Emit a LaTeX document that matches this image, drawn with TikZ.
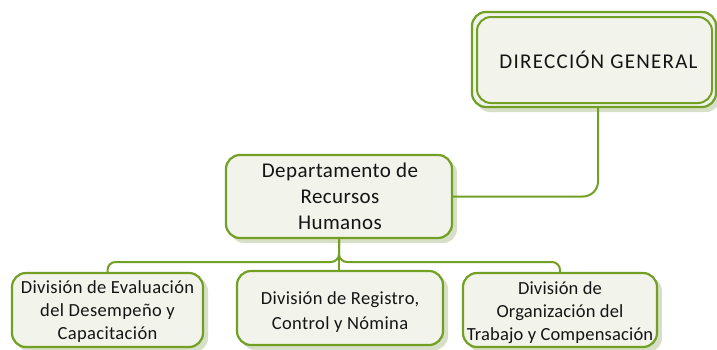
\documentclass[tikz,border=0pt]{standalone}
\usepackage{fontspec}
\setmainfont{Carlito}
\definecolor{bgreen}{HTML}{72A024}
\definecolor{bfill}{HTML}{F2F4EC}
\definecolor{bshadow}{HTML}{D8DFC8}
\begin{document}
\begin{tikzpicture}[x=1pt,y=-1pt,
  box/.style={draw=bgreen,line width=2.2pt,fill=bfill,rounded corners=14pt,
    inner sep=0pt},
  lbl/.style={align=center,inner sep=0pt,text=black!92},
  shad/.style={fill=bshadow,rounded corners=14pt,draw=none},
  conn/.style={draw=bgreen,line width=2pt,rounded corners=8pt}]
\useasboundingbox (0,0) rectangle (717,349);
% shadows
\fill[shad] (476,16) rectangle (720,112);
\fill[shad] (230,159) rectangle (457,243);
\fill[shad] (16,277) rectangle (208,352);
\fill[shad] (241,275) rectangle (448,350);
\fill[shad] (467,277) rectangle (662,352);
% Direccion general
\node[box,minimum width=244pt,minimum height=95pt] (dirout) at (594,59.5) {};
\node[box,line width=2pt,minimum width=235pt,minimum height=86pt] (dir) at (594.5,60) {};
\node[lbl,font=\fontsize{21}{24}\selectfont\addfontfeature{LetterSpace=6}] (dirt) at ([xshift=4pt]dir.center) {DIRECCIÓN GENERAL};
% Departamento
\node[box,minimum width=226pt,minimum height=83pt] (dept) at (339,196.5) {};
\node[lbl,font=\fontsize{21}{26}\selectfont\addfontfeature{LetterSpace=2}] (deptt) at ([xshift=1pt]dept.center) {Departamento de\\Recursos\\Humanos};
% divisions
\node[box,minimum width=191pt,minimum height=74pt] (d1) at (107.5,310) {};
\node[lbl,font=\fontsize{18.5}{23}\selectfont\addfontfeature{LetterSpace=2}] (d1t) at ([yshift=-2pt]d1.center) {División de Evaluación\\del Desempeño y\\Capacitación};
\node[box,minimum width=206pt,minimum height=74pt] (d2) at (340,308) {};
\node[lbl,font=\fontsize{18.5}{25}\selectfont\addfontfeature{LetterSpace=2}] (d2t) at ([yshift=-4pt]d2.center) {División de Registro,\\Control y Nómina};
\node[box,minimum width=194pt,minimum height=74pt] (d3) at (560,310) {};
\node[lbl,font=\fontsize{18.5}{23}\selectfont\addfontfeature{LetterSpace=1}] (d3t) at ([yshift=-3pt]d3.center) {División de\\Organización del\\Trabajo y Compensación};
% connectors
\coordinate (br) at (339,262);
\coordinate (dsrc) at (598,107);
\draw[conn,rounded corners=15pt] (dsrc) |- (dept.east);
\draw[conn] (d1.north) |- (dept.south |- br) -- (dept.south);
\draw[conn] (d3.north) |- (dept.south |- br) -- (dept.south);
\draw[conn] (dept.south) -- (dept.south |- d2.north);
\end{tikzpicture}
\end{document}
